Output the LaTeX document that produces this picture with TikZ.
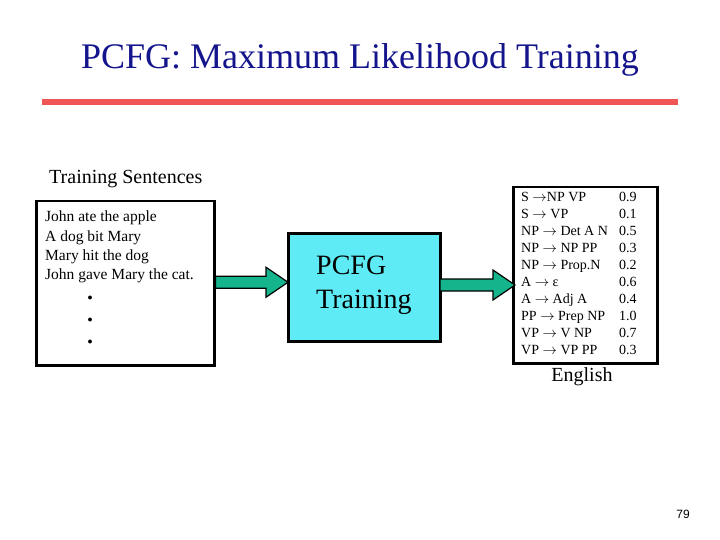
\documentclass[tikz,border=0pt]{standalone}
\usepackage{fontspec}
\setmainfont{Liberation Serif}
\newfontfamily\sansf{Liberation Sans}
\definecolor{redline}{RGB}{240,85,85}
\definecolor{titleblue}{RGB}{20,20,140}
\definecolor{arrowgreen}{RGB}{20,180,140}
\definecolor{cyanbox}{RGB}{95,235,245}
\tikzset{
  txt/.style={inner sep=0pt,anchor=base west,font=\fontsize{15.5}{15.5}\selectfont},
  gtxt/.style={inner sep=0pt,anchor=base west,font=\fontsize{14}{14}\selectfont},
  bigarrow/.style={draw=black,line width=1.2pt,fill=arrowgreen,line join=miter},
}
\newcommand{\fatarrow}[2]{%
  \path (#1) coordinate (fa) (#2) coordinate (fb);
  \draw[bigarrow] ([yshift=-6pt]fa) -- ([xshift=-22pt,yshift=-6pt]fb|-fa) -- ([xshift=-22pt,yshift=-15pt]fb|-fa) -- (fb|-fa) -- ([xshift=-22pt,yshift=15pt]fb|-fa) -- ([xshift=-22pt,yshift=6pt]fb|-fa) -- ([yshift=6pt]fa) -- cycle;}
\begin{document}
\begin{tikzpicture}[x=1pt,y=-1pt]
\useasboundingbox (0,0) rectangle (720,540);
\node[text=titleblue] (title) at (360,60) {\fontsize{36}{36}\selectfont PCFG: Maximum Likelihood Training};
\draw[redline,line width=6pt] (42,102) -- (678,102);
\node[anchor=west,inner sep=0pt,font=\fontsize{20}{20}\selectfont] (ts) at (49,179) {Training Sentences};
\node[draw,line width=2.5pt,minimum width=178pt,minimum height=164pt,anchor=north west,inner sep=0pt] (left) at (35,200) {};
\node[txt] (s1) at (45,222) {John ate the apple};
\node[txt] (s2) at (45,241) {A dog bit Mary};
\node[txt] (s3) at (45,260) {Mary hit the dog};
\node[txt] (s4) at (45,279) {John gave Mary the cat.};
\node[inner sep=0pt] (d1) at (90,298) {$\bullet$};
\node[inner sep=0pt] (d2) at (90,320) {$\bullet$};
\node[inner sep=0pt] (d3) at (90,342) {$\bullet$};
\node[draw,line width=2.5pt,fill=cyanbox,minimum width=152pt,minimum height=108pt,anchor=north west,inner sep=0pt] (pcfg) at (287,232) {};
\node[anchor=west,inner sep=0pt,align=left,font=\fontsize{28}{34}\selectfont] (pt) at (316,285) {PCFG\\Training};
\node[draw,line width=2.5pt,minimum width=144pt,minimum height=176pt,anchor=north west,inner sep=0pt] (gram) at (512,186) {};
\foreach \r/\p [count=\i from 0] in {S $\rightarrow$NP VP/0.9,S $\rightarrow$ VP/0.1,NP $\rightarrow$ Det A N/0.5,NP $\rightarrow$ NP PP/0.3,NP $\rightarrow$ Prop.N/0.2,A $\rightarrow$ ε/0.6,A $\rightarrow$ Adj A/0.4,PP $\rightarrow$ Prep NP/1.0,VP $\rightarrow$ V NP/0.7,VP $\rightarrow$ VP PP/0.3}{
  \node[gtxt] (r\i) at (521,{202+16.9*\i}) {\r};
  \node[gtxt] (p\i) at (619,{202+16.9*\i}) {\p};
}
\node[font=\fontsize{20}{20}\selectfont,inner sep=0pt] (eng) at (582,377) {English};
\coordinate (a1s) at ([yshift=1pt]left.east);
\coordinate (a1e) at (288,285);
\fatarrow{a1s}{a1e}
\coordinate (a2s) at (440,285);
\coordinate (a2e) at (515,285);
\fatarrow{a2s}{a2e}
\node[font=\sansf\fontsize{12}{12}\selectfont,inner sep=0pt] (num) at (683,514) {79};
\end{tikzpicture}
\end{document}
